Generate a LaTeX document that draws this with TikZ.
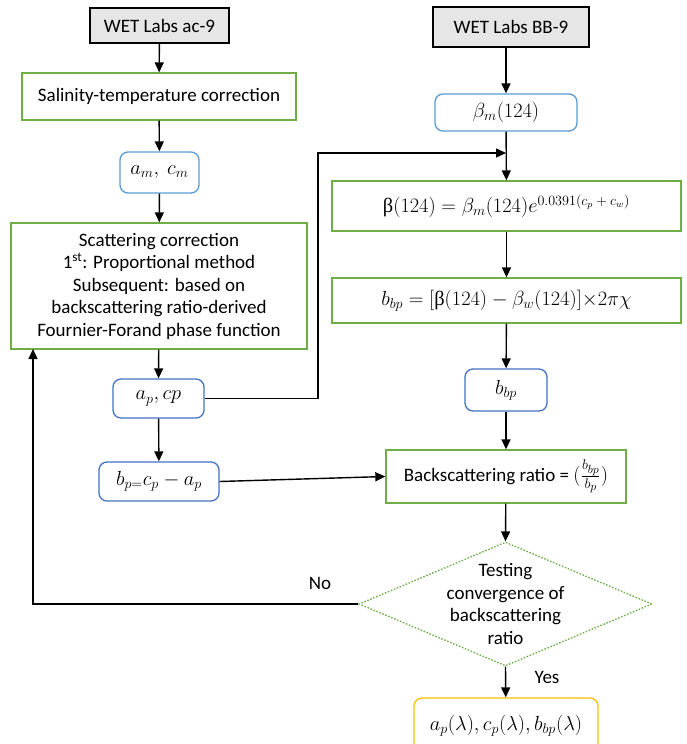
\RequirePackage{fix-cm}
\documentclass[tikz,border=0pt]{standalone}
\usepackage{amsmath}
\usepackage{graphicx}
\usepackage{fontspec}
\setmainfont{Carlito}
\newfontfamily\serifgr{Liberation Serif}
\usetikzlibrary{arrows.meta,shapes.geometric}
\definecolor{bgreen}{HTML}{70AD47}
\definecolor{lblue}{HTML}{5B9BD5}
\definecolor{dblue}{HTML}{4472C4}
\definecolor{byellow}{HTML}{FFC000}
\definecolor{lgray}{HTML}{E7E6E6}
\newcommand{\bigexp}[1]{\mbox{\fontsize{12}{14}\selectfont$#1$}}
\newcommand{\upbeta}{\text{\serifgr β}}
\newcommand{\mth}[1]{\scalebox{1.18}{$#1$}}
\tikzset{
  base/.style={draw, line width=1.3pt, inner sep=0pt, align=center, font=\fontsize{19}{22.5}\selectfont},
  mathf/.style={font=\fontsize{17.28}{20}\selectfont},
  instr/.style={base, draw=black, fill=lgray},
  gbox/.style={base, draw=bgreen},
  lbbox/.style={base, draw=lblue, rounded corners=8pt},
  dbbox/.style={base, draw=dblue, rounded corners=8pt},
  ybox/.style={base, draw=byellow, rounded corners=8pt},
  arr/.style={line width=1.4pt, -{Triangle[length=10pt,width=9pt]}},
  lbl/.style={font=\fontsize{19}{22.5}\selectfont, inner sep=0pt}
}
\begin{document}
\begin{tikzpicture}[x=1pt,y=-1pt]
\useasboundingbox (0,0) rectangle (686,744);
\clip (0,0) rectangle (686,744);
% left column
\node[instr, minimum width=139pt, minimum height=35pt] (ac9) at (159.5,25.5) {WET Labs ac-9};
\node[gbox, minimum width=274pt, minimum height=47pt] (sal) at (159,96.5) {Salinity-temperature correction};
\node[lbbox, mathf, minimum width=79pt, minimum height=41pt] (am) at (159.5,172.5) {\mth{a_m,\ c_m}};
\node[gbox, minimum width=296pt, minimum height=126pt] (scat) at (159,286) {Scattering correction\\1\textsuperscript{st}: Proportional method\\Subsequent: based on\\backscattering ratio-derived\\Fournier-Forand phase function};
\node[dbbox, mathf, minimum width=91pt, minimum height=39pt] (apcp) at (158.5,398.5) {\mth{a_p, cp}};
\node[dbbox, mathf, minimum width=120pt, minimum height=39pt] (bp) at (159,481.5) {\mth{b_{p=}c_p - a_p}};
% right column
\node[instr, minimum width=156pt, minimum height=40pt] (bb9) at (511,27) {WET Labs BB-9};
\node[lbbox, mathf, minimum width=142pt, minimum height=37pt] (betam) at (506,112.5) {\mth{\beta_m(124)}};
\node[gbox, mathf, minimum width=349pt, minimum height=50pt] (beta) at (506.5,206) {\mth{\upbeta(124) = \beta_m(124)e^{\bigexp{0.0391(c_p+c_w)}}}};
\node[gbox, mathf, minimum width=349pt, minimum height=45pt] (bbpf) at (506.5,300.5) {\mth{b_{bp} = [\upbeta(124) - \beta_w(124)]{\times}2\pi\chi}};
\node[dbbox, mathf, minimum width=82pt, minimum height=42pt] (bbp) at (506,390) {\mth{b_{bp}}};
\node[gbox, minimum width=240pt, minimum height=53pt] (ratio) at (506,476.5) {Backscattering ratio = {\fontsize{17.28}{20}\selectfont\mth{(\frac{b_{bp}}{b_p})}}};
\node[diamond, draw=bgreen, line width=1.3pt, dash pattern=on 1.6pt off 1.6pt, minimum width=293pt, minimum height=124pt, inner sep=0pt] (dia) at (505.5,604) {};
\node[lbl, align=center] (diat) at (505.5,604) {Testing\\convergence of\\backscattering\\ratio};
\node[ybox, mathf, minimum width=184pt, minimum height=56pt] (out) at (506,726) {\mth{a_p(\lambda), c_p(\lambda), b_{bp}(\lambda)}};
% coordinates
\coordinate (c1) at (318,153);
\coordinate (join) at (506,153);
\coordinate (lp) at (33,349);
% connectors
\draw[arr] (ac9) -- (sal);
\draw[arr] (sal) -- (am);
\draw[arr] (am) -- (scat);
\draw[arr] (scat) -- (apcp);
\draw[arr] (apcp) -- (bp);
\draw[arr] (bb9.south -| betam.north) -- (betam);
\draw[arr] (betam) -- (beta);
\draw[arr] (apcp.east) -| (c1) -- (join);
\draw[arr] (beta) -- (bbpf);
\draw[arr] (bbpf) -- (bbp);
\draw[arr] (bbp) -- (ratio);
\draw[arr] (bp.east) -- (ratio.west);
\draw[arr] (ratio) -- (dia.north);
\draw[arr] (dia.south) -- (out);
\draw[arr] (dia.west) -| (lp);
% labels
\node[lbl] (no) at (320,583) {No};
\node[lbl] (yes) at (547,677) {Yes};
\end{tikzpicture}
\end{document}
